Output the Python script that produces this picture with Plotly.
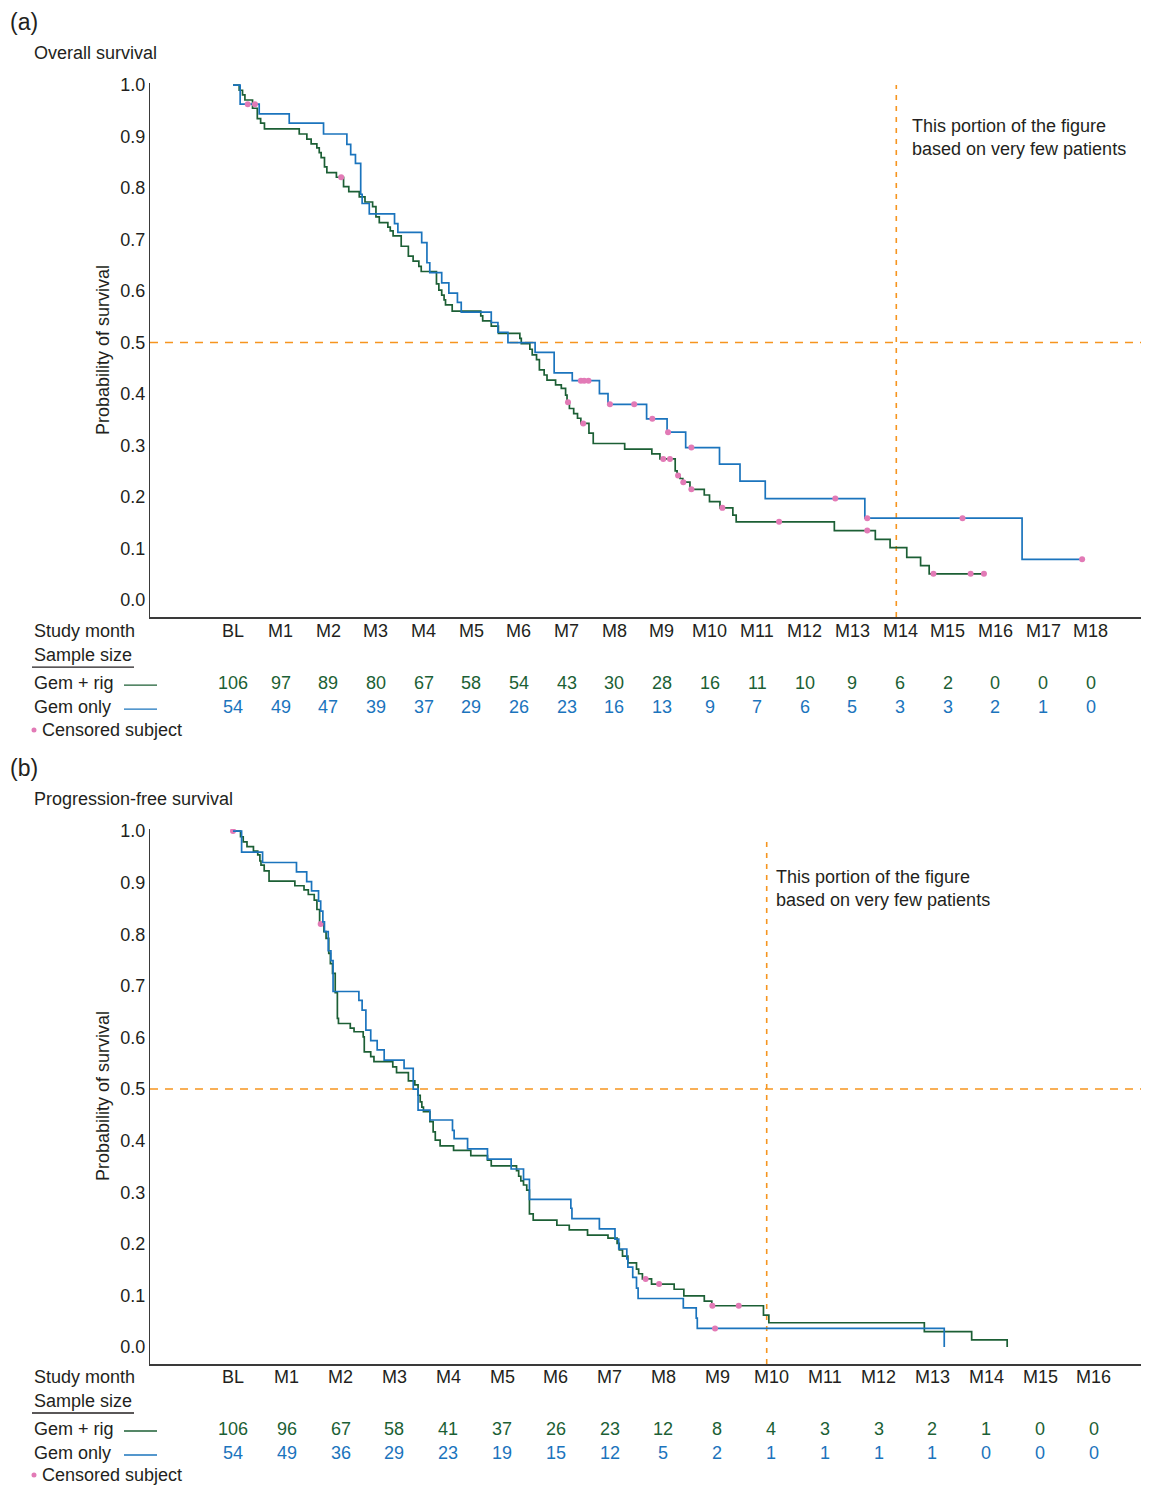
import numpy as np
import plotly.graph_objects as go

# ------------------------------------------------------------------ data
months_a = ["BL", "M1", "M2", "M3", "M4", "M5", "M6", "M7", "M8", "M9", "M10",
            "M11", "M12", "M13", "M14", "M15", "M16", "M17", "M18"]
months_b = ["BL", "M1", "M2", "M3", "M4", "M5", "M6", "M7", "M8", "M9", "M10",
            "M11", "M12", "M13", "M14", "M15", "M16"]

os_n_gemrig = [106, 97, 89, 80, 67, 58, 54, 43, 30, 28, 16, 11, 10, 9, 6, 2, 0, 0, 0]
os_n_gem = [54, 49, 47, 39, 37, 29, 26, 23, 16, 13, 9, 7, 6, 5, 3, 3, 2, 1, 0]
pfs_n_gemrig = [106, 96, 67, 58, 41, 37, 26, 23, 12, 8, 4, 3, 3, 2, 1, 0, 0]
pfs_n_gem = [54, 49, 36, 29, 23, 19, 15, 12, 5, 2, 1, 1, 1, 1, 0, 0, 0]

# Overall survival - Gem + rig (event month, survival after event)
os_gemrig_t = [0.13, 0.20, 0.25, 0.41, 0.51, 0.58, 0.66, 1.39, 1.55, 1.64, 1.76, 1.81, 1.85,
               1.92, 1.97, 2.17, 2.32, 2.43, 2.65, 2.77, 2.93, 3.00, 3.07, 3.25, 3.30, 3.36,
               3.53, 3.68, 3.78, 3.90, 3.95, 4.27, 4.32, 4.38, 4.43, 4.46, 4.60, 5.20, 5.24,
               5.42, 5.57, 6.02, 6.05, 6.23, 6.28, 6.37, 6.43, 6.53, 6.59, 6.77, 6.89, 6.98,
               7.01, 7.06, 7.15, 7.23, 7.30, 7.47, 7.56, 8.22, 8.79, 8.96, 9.28, 9.32, 9.38,
               9.44, 9.59, 9.89, 10.00, 10.22, 10.49, 10.56, 12.62, 13.48, 13.79, 14.14,
               14.43, 14.61]
os_gemrig_s = [0.990, 0.981, 0.971, 0.955, 0.935, 0.926, 0.915, 0.905, 0.895, 0.886, 0.878,
               0.869, 0.859, 0.841, 0.830, 0.821, 0.803, 0.793, 0.783, 0.773, 0.764, 0.744,
               0.733, 0.724, 0.717, 0.707, 0.687, 0.668, 0.658, 0.648, 0.638, 0.614, 0.602,
               0.592, 0.583, 0.573, 0.561, 0.552, 0.542, 0.532, 0.518, 0.508, 0.498, 0.487,
               0.476, 0.467, 0.447, 0.437, 0.427, 0.418, 0.411, 0.398, 0.384, 0.372, 0.362,
               0.353, 0.343, 0.324, 0.304, 0.293, 0.284, 0.274, 0.251, 0.242, 0.236, 0.229,
               0.215, 0.204, 0.191, 0.179, 0.165, 0.152, 0.135, 0.118, 0.102, 0.083, 0.067,
               0.051]
os_gemrig_cens = [2.27, 7.03, 7.35, 9.03, 9.17, 9.34, 9.45, 9.62, 10.27, 11.46, 13.31,
                  14.70, 15.48, 15.76]

# Overall survival - Gem only
os_gem_t = [0.15, 0.55, 1.18, 1.90, 2.39, 2.47, 2.57, 2.68, 2.71, 2.86, 3.39, 3.46, 3.96,
            4.07, 4.13, 4.38, 4.53, 4.71, 4.79, 5.42, 5.56, 5.77, 6.34, 6.74, 7.12, 7.69,
            7.87, 8.68, 9.11, 9.50, 10.21, 10.64, 11.17, 13.26, 16.56]
os_gem_s = [0.963, 0.944, 0.926, 0.905, 0.885, 0.865, 0.848, 0.788, 0.770, 0.750, 0.731,
            0.714, 0.694, 0.655, 0.636, 0.616, 0.596, 0.578, 0.559, 0.539, 0.520, 0.500,
            0.481, 0.441, 0.426, 0.401, 0.380, 0.352, 0.326, 0.296, 0.264, 0.231, 0.197,
            0.159, 0.079]
os_gem_cens = [0.31, 0.46, 7.30, 7.37, 7.46, 7.91, 8.42, 8.80, 9.13, 9.62, 12.64, 13.31,
               15.31, 17.82]

# Progression-free survival - Gem + rig
pfs_gemrig_t = [0.14, 0.19, 0.26, 0.38, 0.46, 0.50, 0.52, 0.58, 0.67, 1.15, 1.32, 1.40, 1.51,
                1.56, 1.61, 1.69, 1.73, 1.78, 1.81, 1.85, 1.90, 1.94, 1.96, 2.18, 2.25, 2.42,
                2.44, 2.56, 2.62, 2.97, 3.04, 3.26, 3.38, 3.44, 3.48, 3.51, 3.54, 3.66, 3.72,
                3.76, 3.85, 4.10, 4.42, 4.73, 4.80, 5.27, 5.31, 5.35, 5.40, 5.46, 5.51, 5.58,
                6.02, 6.25, 6.59, 6.97, 7.14, 7.18, 7.24, 7.34, 7.50, 7.54, 7.61, 7.78, 8.20,
                8.38, 8.76, 8.90, 9.86, 9.96, 12.85, 13.73, 14.39]
pfs_gemrig_s = [0.989, 0.979, 0.970, 0.961, 0.954, 0.942, 0.934, 0.923, 0.903, 0.894, 0.886,
                0.877, 0.866, 0.848, 0.820, 0.805, 0.792, 0.763, 0.743, 0.724, 0.687, 0.637,
                0.627, 0.618, 0.611, 0.601, 0.572, 0.563, 0.553, 0.543, 0.532, 0.516, 0.508,
                0.488, 0.475, 0.465, 0.456, 0.437, 0.417, 0.401, 0.390, 0.381, 0.371, 0.362,
                0.351, 0.342, 0.331, 0.322, 0.314, 0.304, 0.258, 0.246, 0.236, 0.227, 0.217,
                0.211, 0.201, 0.188, 0.176, 0.163, 0.151, 0.142, 0.132, 0.122, 0.112, 0.099,
                0.089, 0.080, 0.062, 0.047, 0.030, 0.014, 0.0]
pfs_gemrig_cens = [0.0, 1.63, 7.67, 7.92, 8.91, 9.40]

# Progression-free survival - Gem only
pfs_gem_t = [0.16, 0.55, 1.18, 1.37, 1.46, 1.59, 1.63, 1.67, 1.70, 1.77, 1.82, 1.86, 2.34,
             2.40, 2.47, 2.56, 2.68, 2.81, 3.18, 3.35, 3.44, 3.66, 4.08, 4.11, 4.36, 4.73,
             5.17, 5.40, 5.51, 6.28, 6.30, 6.81, 7.10, 7.17, 7.32, 7.34, 7.43, 7.50, 7.53,
             8.37, 8.61, 8.63, 13.22]
pfs_gem_s = [0.959, 0.939, 0.921, 0.902, 0.884, 0.864, 0.845, 0.824, 0.805, 0.768, 0.749,
             0.689, 0.672, 0.653, 0.614, 0.594, 0.576, 0.556, 0.540, 0.500, 0.459, 0.440,
             0.420, 0.404, 0.384, 0.364, 0.345, 0.325, 0.286, 0.269, 0.249, 0.229, 0.209,
             0.190, 0.171, 0.155, 0.135, 0.114, 0.094, 0.076, 0.056, 0.036, 0.0]
pfs_gem_cens = [8.96]

y_ticks = [0.0, 0.1, 0.2, 0.3, 0.4, 0.5, 0.6, 0.7, 0.8, 0.9, 1.0]
y_ticktext = ["0.0", "0.1", "0.2", "0.3", "0.4", "0.5", "0.6", "0.7", "0.8", "0.9", "1.0"]
median_level = 0.5
few_patients_month_a = 13.92
few_patients_month_b = 9.92

# ------------------------------------------------------------------ styles
OX, OY = 8, 16          # page offset of the plot div
SY = 0.99465            # vertical scale of the photograph
W, H = 1141, 1482
GREEN = "#1c5f35"
BLUE = "#1b74bd"
PINK = "#e27ab6"
ORANGE = "#f6951f"
TXT = "#231f20"
FONT = "Liberation Sans, Arial, Helvetica, sans-serif"
FS = 18


def PX(x):  # target picture x -> paper
    return (x - OX) / W


def PY(y):  # target picture y -> paper
    return 1 - (y / SY - OY) / H


def surv_at(times, surv, t):
    tt = np.concatenate([[0.0], np.asarray(times, float)])
    ss = np.concatenate([[1.0], np.asarray(surv, float)])
    idx = np.searchsorted(tt, np.asarray(t, float), side="right") - 1
    return ss[idx]


fig = go.Figure()


def add_curve(times, surv, cens, color, xa, ya):
    end = max(times[-1], max(cens))
    xs = [0.0] + list(times) + [end]
    ys = [1.0] + list(surv) + [surv[-1]]
    fig.add_trace(go.Scatter(x=xs, y=ys, mode="lines", line=dict(color=color, width=1.7, shape="hv"),
                             xaxis=xa, yaxis=ya, showlegend=False, hoverinfo="skip"))
    fig.add_trace(go.Scatter(x=cens, y=surv_at(times, surv, cens), mode="markers",
                             marker=dict(color=PINK, size=6, line=dict(width=0)),
                             xaxis=xa, yaxis=ya, showlegend=False, hoverinfo="skip"))


add_curve(os_gemrig_t, os_gemrig_s, os_gemrig_cens, GREEN, "x", "y")
add_curve(os_gem_t, os_gem_s, os_gem_cens, BLUE, "x", "y")
add_curve(pfs_gemrig_t, pfs_gemrig_s, pfs_gemrig_cens, GREEN, "x2", "y2")
add_curve(pfs_gem_t, pfs_gem_s, pfs_gem_cens, BLUE, "x2", "y2")

# axes geometry (target picture pixels -> data)
RIGHT = OX + W
xa_range = [(150 - 233) / 47.65, (RIGHT - 233) / 47.65]
xb_range = [(150 - 233) / 53.8, (RIGHT - 233) / 53.8]
ya_range = [(600 - 617) / 515.0, (600 - 83) / 515.0]
yb_range = [(1347 - 1364) / 516.0, (1347 - 829) / 516.0]

common_x = dict(showgrid=False, zeroline=False, showticklabels=False, ticks="",
                showline=True, linecolor="#3a3a3a", linewidth=2, fixedrange=True)
common_y = dict(showgrid=False, zeroline=False, tickvals=y_ticks, ticktext=y_ticktext,
                ticks="", showline=True, linecolor="#3a3a3a", linewidth=1.3,
                tickfont=dict(family=FONT, size=FS, color=TXT), fixedrange=True)

fig.update_layout(
    width=W, height=H, margin=dict(l=0, r=0, t=0, b=0),
    paper_bgcolor="white", plot_bgcolor="white",
    font=dict(family=FONT, size=FS, color=TXT),
    xaxis=dict(domain=[PX(150), 1], range=xa_range, anchor="y", **common_x),
    yaxis=dict(domain=[PY(617), PY(83)], range=ya_range, anchor="x", **common_y),
    xaxis2=dict(domain=[PX(150), 1], range=xb_range, anchor="y2", **common_x),
    yaxis2=dict(domain=[PY(1364), PY(829)], range=yb_range, anchor="x2", **common_y),
)

shapes = []
annots = []
dash_h = "8px,7px"
dash_v = "5px,6px"
# reference lines
shapes.append(dict(type="line", xref="x domain", yref="y", x0=0, x1=1, y0=median_level, y1=median_level,
                   line=dict(color=ORANGE, width=1.6, dash=dash_h), layer="below"))
shapes.append(dict(type="line", xref="x", yref="y", x0=few_patients_month_a, x1=few_patients_month_a,
                   y0=ya_range[0], y1=1.0, line=dict(color=ORANGE, width=1.6, dash=dash_v), layer="below"))
shapes.append(dict(type="line", xref="x2 domain", yref="y2", x0=0, x1=1, y0=median_level, y1=median_level,
                   line=dict(color=ORANGE, width=1.6, dash=dash_h), layer="below"))
shapes.append(dict(type="line", xref="x2", yref="y2", x0=few_patients_month_b, x1=few_patients_month_b,
                   y0=yb_range[0], y1=0.99, line=dict(color=ORANGE, width=1.6, dash=dash_v), layer="below"))


def txt(x, y, s, size=FS, color=TXT, xanchor="left", xref="paper", **kw):
    annots.append(dict(x=x, y=y, xref=xref, yref="paper", text=s, showarrow=False,
                       xanchor=xanchor, yanchor="middle",
                       font=dict(family=FONT, size=size, color=color), **kw))


def panel(tag, title, tag_y, title_y, ytitle_y, xref, months, n1, n2, rows_y, note_x, note_y):
    txt(PX(8), PY(tag_y), tag, size=23)
    txt(PX(32), PY(title_y), title)
    txt(PX(103), PY(ytitle_y), "Probability of survival", xanchor="center", textangle=-90)
    txt(PX(note_x), PY(note_y), "This portion of the figure<br>based on very few patients", align="left")
    y_month, y_samp, y_g1, y_g2, y_cens = rows_y
    txt(PX(32), PY(y_month), "Study month")
    txt(PX(32), PY(y_samp), "Sample size")
    shapes.append(dict(type="line", xref="paper", yref="paper", x0=PX(32), x1=PX(134),
                       y0=PY(y_samp + 12), y1=PY(y_samp + 12), line=dict(color=TXT, width=1.3)))
    txt(PX(32), PY(y_g1), "Gem + rig")
    txt(PX(32), PY(y_g2), "Gem only")
    shapes.append(dict(type="line", xref="paper", yref="paper", x0=PX(124), x1=PX(157),
                       y0=PY(y_g1 + 2), y1=PY(y_g1 + 2), line=dict(color=GREEN, width=1.3)))
    shapes.append(dict(type="line", xref="paper", yref="paper", x0=PX(124), x1=PX(157),
                       y0=PY(y_g2 + 2), y1=PY(y_g2 + 2), line=dict(color=BLUE, width=1.3)))
    shapes.append(dict(type="circle", xref="paper", yref="paper", x0=PX(31.5), x1=PX(36.5),
                       y0=PY(y_cens + 2.5), y1=PY(y_cens - 2.5), fillcolor=PINK, line=dict(width=0)))
    txt(PX(40), PY(y_cens), "Censored subject")
    for k, lab in enumerate(months):
        txt(k, PY(y_month), lab, xanchor="center", xref=xref)
        txt(k, PY(y_g1), str(n1[k]), xanchor="center", xref=xref, color=GREEN)
        txt(k, PY(y_g2), str(n2[k]), xanchor="center", xref=xref, color=BLUE)


panel("(a)", "Overall survival", 22, 53, 350, "x", months_a, os_n_gemrig, os_n_gem,
      (631, 655, 683, 707, 730), 910, 137)
panel("(b)", "Progression-free survival", 768, 799, 1096, "x2", months_b, pfs_n_gemrig, pfs_n_gem,
      (1377, 1401, 1429, 1453, 1475), 774, 888)

fig.update_layout(shapes=shapes, annotations=annots)
fig.write_html("out.html")
